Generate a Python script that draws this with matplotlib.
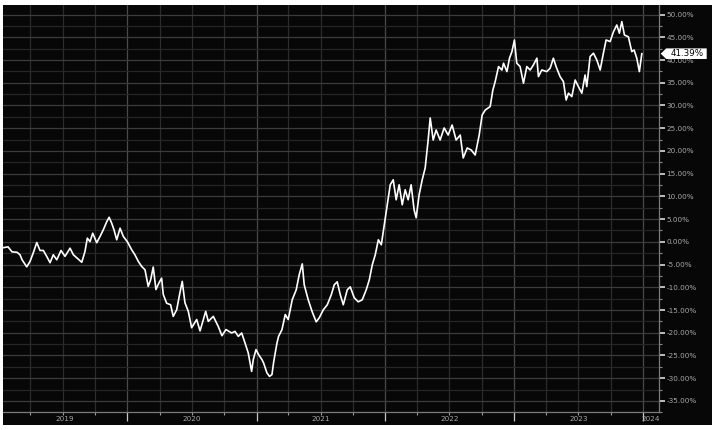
import matplotlib
matplotlib.use("Agg")
import matplotlib.pyplot as plt
import matplotlib.dates as mdates
from matplotlib.patches import Rectangle, Polygon
from matplotlib.ticker import MultipleLocator, FuncFormatter, NullFormatter
from matplotlib.transforms import blended_transform_factory
from datetime import datetime, timedelta

# ---- data (decimal year, cumulative return in %) ----
t_years = [
    2019.034, 2019.073, 2019.104, 2019.143, 2019.166, 2019.182, 2019.218, 2019.244, 2019.269, 2019.296,
    2019.321, 2019.347, 2019.373, 2019.399, 2019.424, 2019.451, 2019.484, 2019.515, 2019.554, 2019.580,
    2019.606, 2019.645, 2019.670, 2019.688, 2019.709, 2019.730, 2019.761, 2019.787, 2019.812, 2019.839,
    2019.857, 2019.877, 2019.895, 2019.916, 2019.942, 2019.967, 2019.998, 2020.033, 2020.058, 2020.084,
    2020.110, 2020.136, 2020.161, 2020.180, 2020.200, 2020.221, 2020.244, 2020.265, 2020.278, 2020.304,
    2020.335, 2020.355, 2020.382, 2020.407, 2020.425, 2020.446, 2020.472, 2020.498, 2020.537, 2020.563,
    2020.607, 2020.627, 2020.666, 2020.704, 2020.733, 2020.764, 2020.808, 2020.834, 2020.860, 2020.886,
    2020.912, 2020.937, 2020.963, 2020.976, 2020.997, 2021.015, 2021.041, 2021.054, 2021.080, 2021.100,
    2021.119, 2021.131, 2021.144, 2021.158, 2021.170, 2021.183, 2021.196, 2021.222, 2021.245, 2021.276,
    2021.307, 2021.330, 2021.354, 2021.369, 2021.400, 2021.431, 2021.462, 2021.486, 2021.517, 2021.548,
    2021.579, 2021.602, 2021.625, 2021.649, 2021.672, 2021.703, 2021.726, 2021.757, 2021.788, 2021.819,
    2021.850, 2021.874, 2021.897, 2021.920, 2021.944, 2021.967, 2021.990, 2022.013, 2022.037, 2022.060,
    2022.083, 2022.106, 2022.130, 2022.153, 2022.176, 2022.199, 2022.222, 2022.238, 2022.261, 2022.285,
    2022.308, 2022.331, 2022.347, 2022.370, 2022.393, 2022.424, 2022.455, 2022.486, 2022.517, 2022.548,
    2022.580, 2022.603, 2022.634, 2022.665, 2022.696, 2022.727, 2022.750, 2022.774, 2022.812, 2022.833,
    2022.851, 2022.877, 2022.903, 2022.916, 2022.942, 2022.962, 2022.981, 2023.001, 2023.019, 2023.045,
    2023.071, 2023.097, 2023.123, 2023.148, 2023.175, 2023.187, 2023.213, 2023.252, 2023.278, 2023.303,
    2023.324, 2023.355, 2023.381, 2023.402, 2023.420, 2023.446, 2023.472, 2023.497, 2023.524, 2023.549,
    2023.562, 2023.588, 2023.614, 2023.640, 2023.666, 2023.691, 2023.712, 2023.743, 2023.769, 2023.795,
    2023.815, 2023.834, 2023.854, 2023.885, 2023.911, 2023.929, 2023.950, 2023.970, 2023.989,
]
returns_pct = [
    -1.3, -1.1, -2.2, -2.3, -2.85, -3.95, -5.5, -4.3, -2.4, -0.15,
    -1.9, -1.9, -3.2, -4.6, -2.85, -3.95, -1.9, -3.2, -1.4, -2.85,
    -3.5, -4.5, -2.1, 0.8, 0.05, 1.9, -0.2, 1.2, 2.65, 4.45,
    5.4, 4.1, 2.65, 0.45, 3.0, 1.2, 0.05, -1.75, -2.85, -4.3,
    -5.4, -6.15, -9.8, -8.35, -5.55, -10.5, -9.05, -8.0, -11.6, -13.5,
    -13.85, -16.4, -14.95, -11.2, -8.7, -13.4, -15.3, -18.9, -17.1, -19.6,
    -15.3, -17.5, -16.4, -18.6, -20.65, -19.3, -20.05, -19.7, -20.8, -20.05,
    -22.25, -24.45, -28.5, -25.9, -23.7, -24.8, -25.9, -26.65, -28.85, -29.6,
    -29.2, -26.65, -24.45, -22.25, -20.8, -20.05, -19.35, -16.0, -17.1, -12.75,
    -10.55, -7.25, -4.85, -9.45, -12.75, -15.4, -17.6, -16.7, -14.95, -13.85,
    -11.65, -9.45, -8.8, -11.65, -13.85, -10.55, -9.9, -12.3, -13.2, -12.75,
    -10.55, -8.35, -5.05, -2.85, 0.45, -0.65, 3.75, 8.15, 12.55, 13.65,
    9.25, 12.55, 8.15, 11.45, 9.25, 12.55, 7.05, 5.3, 10.35, 13.65,
    16.25, 22.4, 27.25, 22.4, 24.6, 22.4, 25.05, 23.5, 25.7, 22.4,
    23.5, 18.45, 20.65, 20.2, 19.1, 23.5, 27.9, 29.0, 29.75, 33.4,
    35.25, 38.55, 37.8, 39.3, 37.45, 40.4, 41.85, 44.4, 39.3, 38.55,
    34.9, 38.55, 37.8, 38.9, 40.4, 36.35, 37.8, 37.45, 38.2, 40.4,
    38.55, 36.35, 35.25, 31.2, 32.7, 31.95, 35.6, 34.15, 32.7, 36.7,
    34.15, 40.75, 41.5, 40.0, 37.8, 41.5, 44.4, 44.05, 46.2, 47.7,
    45.9, 48.45, 45.5, 45.1, 41.85, 42.2, 40.4, 37.45, 41.39,
]
year_labels = ["2019", "2020", "2021", "2022", "2023", "2024"]
last_label = "41.39%"


def to_date(y):
    yr = int(y)
    return datetime(yr, 1, 1) + timedelta(days=(y - yr) * 365.25)


dates = [to_date(v) for v in t_years]

W, H = 717, 430
fig = plt.figure(figsize=(W / 100, H / 100), dpi=100)
fig.patch.set_facecolor("white")
bg = Rectangle((3 / W, 5 / H), 709 / W, 420 / H, transform=fig.transFigure,
               facecolor="#070707", edgecolor="none", zorder=-10)
fig.patches.append(bg)

ax = fig.add_axes([3 / W, (H - 412.3) / H, 656 / W, 407.3 / H])
ax.set_zorder(1)
ax.set_facecolor("#070707")

x0, x1 = to_date(2019.034), to_date(2024.123)
ax.set_xlim(x0, x1)
ax.set_ylim(-37.5, 52.1)

# grid
ax.yaxis.set_major_locator(MultipleLocator(5))
ax.yaxis.set_minor_locator(MultipleLocator(2.5))
ax.grid(which="major", axis="y", color="#3c3c3c", lw=0.9)
ax.grid(which="minor", axis="y", color="#262626", lw=0.9)
ax.xaxis.set_major_locator(mdates.YearLocator())
ax.xaxis.set_minor_locator(mdates.MonthLocator(bymonth=[4, 7, 10]))
ax.grid(which="major", axis="x", color="#4a4a4a", lw=0.9)
ax.grid(which="minor", axis="x", color="#2c2c2c", lw=0.9)
ax.set_axisbelow(True)

ax.plot(dates, returns_pct, color="white", lw=1.2, zorder=3)

# spines
for s in ["top", "left"]:
    ax.spines[s].set_visible(False)
for s in ["bottom", "right"]:
    ax.spines[s].set_color("#7a7a7a")
    ax.spines[s].set_linewidth(0.9)

# y axis on the right
ax.yaxis.tick_right()
ax.yaxis.set_major_formatter(FuncFormatter(lambda v, p: f"{v:.2f}%"))
ax.tick_params(axis="y", which="major", length=4, width=1.4, color="#bdbdbd",
               labelsize=5.2, labelcolor="#a8a8a8", pad=1.5)
ax.tick_params(axis="y", which="minor", length=2, width=0.8, color="#8a8a8a")

# x axis ticks
ax.xaxis.set_major_formatter(NullFormatter())
ax.tick_params(axis="x", which="major", length=6.8, width=0.9, color="#c8c8c8")
ax.tick_params(axis="x", which="minor", length=1.8, width=0.8, color="#9a9a9a")

# year labels centred in visible segments
btrans = blended_transform_factory(ax.transData, ax.transAxes)
lo, hi = mdates.date2num(x0), mdates.date2num(x1)
for lab in year_labels:
    yr = int(lab)
    a = max(mdates.date2num(datetime(yr, 1, 1)), lo)
    b = min(mdates.date2num(datetime(yr + 1, 1, 1)), hi)
    ax.text((a + b) / 2, -0.0165, lab, transform=btrans, ha="center", va="center",
            fontsize=5.2, color="#a8a8a8", clip_on=False)

# last value tag
fig.canvas.draw()
tr = blended_transform_factory(ax.transAxes, ax.transData)
px, py = tr.transform((1.0, returns_pct[-1]))
px += 1.7
h = 5.3
verts = [(px, py), (px + 5.5, py + h), (px + 46, py + h), (px + 46, py - h), (px + 5.5, py - h)]
fig.patches.append(Polygon(verts, closed=True, transform=None, facecolor="white",
                           edgecolor="none", zorder=5))
fig.text((px + 26) / W, py / H, last_label, ha="center", va="center", fontsize=6.3,
         color="black", zorder=6)

fig.savefig("out.png", dpi=100, facecolor=fig.get_facecolor())
